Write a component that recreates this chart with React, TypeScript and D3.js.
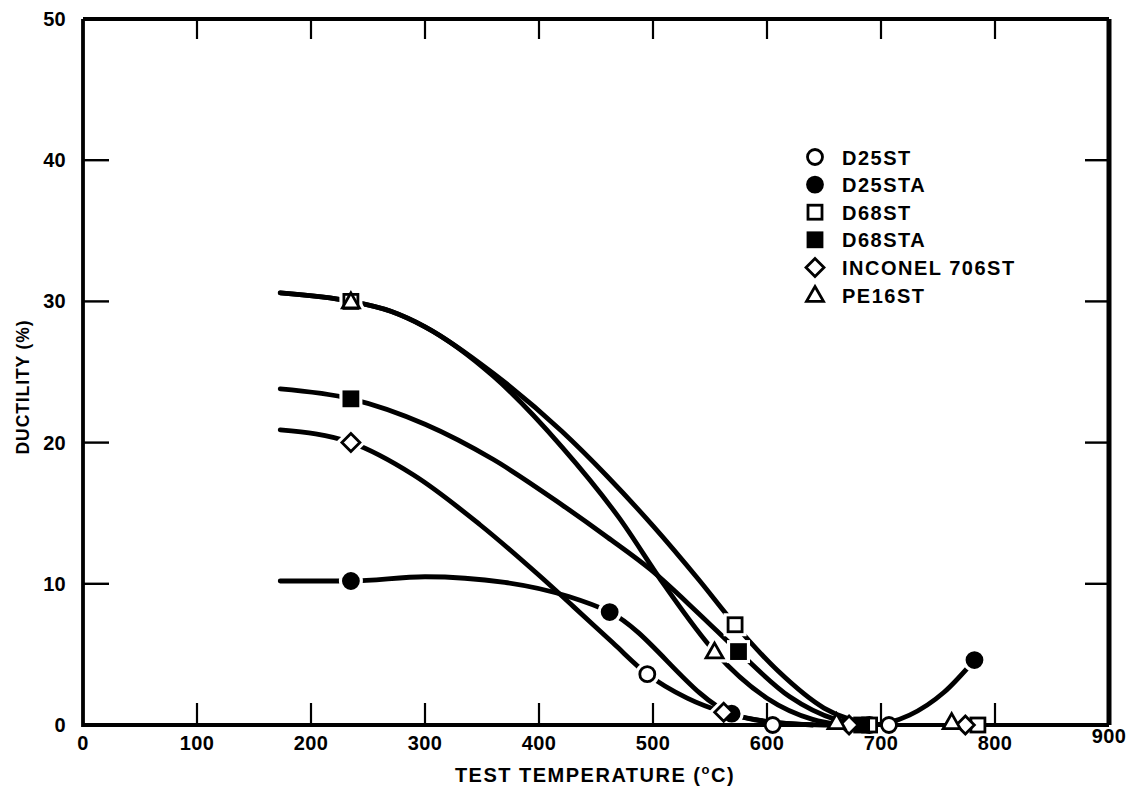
import React from "react";
import * as d3 from "d3";

const W = 1126;
const H = 791;

const xTickValues = [0, 100, 200, 300, 400, 500, 600, 700, 800, 900];
const yTickValues = [0, 10, 20, 30, 40, 50];

const seriesNames = ["D25ST", "D25STA", "D68ST", "D68STA", "INCONEL 706ST", "PE16ST"];
const seriesShapes = ["circle", "circle", "square", "square", "diamond", "triangle"];
const seriesFilled = [false, true, false, true, false, false];

// measured points (temperature °C, ductility %)
const d25stPoints: [number, number][] = [[495, 3.6], [605, 0], [707, 0]];
const d25staPoints: [number, number][] = [[235, 10.2], [462, 8.0], [569, 0.8], [690, 0], [782, 4.6]];
const d68stPoints: [number, number][] = [[235, 30], [572, 7.1], [690, 0], [785, 0]];
const d68staPoints: [number, number][] = [[235, 23.1], [575, 5.2], [683, 0]];
const inconelPoints: [number, number][] = [[235, 20], [562, 0.9], [672, 0], [774, 0]];
const pe16stPoints: [number, number][] = [[235, 30], [554, 5.2], [661, 0.2], [762, 0.2]];

// hand-drawn trend curves
const pe16stCurve: [number, number][] = [[173, 30.6], [235, 30], [270, 29.3], [300, 28.2], [360, 24.7], [420, 19.7], [470, 14.7], [510, 9.9], [554, 5.2], [600, 1.9], [640, 0.4], [665, 0]];
const d68stCurve: [number, number][] = [[173, 30.6], [235, 30], [270, 29.3], [300, 28.2], [360, 24.9], [420, 20.8], [460, 17.6], [500, 14.1], [540, 10.3], [572, 7.1], [610, 3.8], [650, 1.2], [692, 0]];
const d68staCurve: [number, number][] = [[173, 23.8], [235, 23.1], [300, 21.3], [360, 18.8], [420, 15.6], [460, 13.3], [498, 11.0], [540, 7.9], [575, 5.2], [620, 2.0], [660, 0.4], [686, 0]];
const inconelCurve: [number, number][] = [[173, 20.9], [235, 20], [290, 17.7], [348, 14.2], [400, 10.6], [430, 8.4], [465, 5.8], [495, 3.6], [530, 1.9], [562, 0.9], [600, 0.25], [640, 0]];
const d25staCurve: [number, number][] = [[173, 10.2], [235, 10.2], [300, 10.5], [370, 10.1], [426, 9.1], [462, 8.0], [569, 0.8], [610, 0.15], [650, 0], [690, 0], [725, 0.7], [755, 2.3], [782, 4.6]];

const curves = [pe16stCurve, d68stCurve, d68staCurve, inconelCurve, d25staCurve];
const pointSets = [d25stPoints, d25staPoints, d68stPoints, d68staPoints, inconelPoints, pe16stPoints];

const FONT = "'Liberation Sans', Arial, Helvetica, sans-serif";

function Marker({ shape, filled, cx, cy, halo }: { shape: string; filled: boolean; cx: number; cy: number; halo?: boolean }) {
  const fill = halo ? "white" : filled ? "black" : "white";
  const stroke = halo ? "white" : "black";
  const sw = halo ? 9 : 2.8;
  if (shape === "circle") {
    return <circle cx={cx} cy={cy} r={7.5} fill={fill} stroke={stroke} strokeWidth={sw} />;
  }
  if (shape === "square") {
    return <rect x={cx - 7} y={cy - 7} width={14} height={14} fill={fill} stroke={stroke} strokeWidth={sw} />;
  }
  if (shape === "diamond") {
    const r = 9;
    return <polygon points={`${cx},${cy - r} ${cx + r},${cy} ${cx},${cy + r} ${cx - r},${cy}`} fill={fill} stroke={stroke} strokeWidth={sw} strokeLinejoin="miter" />;
  }
  const s = 8.5;
  return <polygon points={`${cx},${cy - s} ${cx + s},${cy + s * 0.75} ${cx - s},${cy + s * 0.75}`} fill={fill} stroke={stroke} strokeWidth={sw} strokeLinejoin="miter" />;
}

export default function App() {
  const x = d3.scaleLinear().domain([0, 900]).range([83, 1109]);
  const y = d3.scaleLinear().domain([0, 50]).range([725, 19]);
  const line = d3
    .line<[number, number]>()
    .x((d) => x(d[0]))
    .y((d) => y(Math.max(0, d[1])))
    .curve(d3.curveMonotoneX);

  const x0 = x(0), x1 = x(900), y0 = y(0), y1 = y(50);

  return (
    <svg width={W} height={H} style={{ position: "absolute", left: 0, top: 0, background: "white" }} fontFamily={FONT}>
      <rect x={0} y={0} width={W} height={H} fill="white" />
      {/* curves */}
      {curves.map((c, i) => (
        <path key={"c" + i} d={line(c) || ""} fill="none" stroke="black" strokeWidth={4.8} strokeLinecap="round" />
      ))}
      {/* halos to create gaps */}
      {pointSets.map((pts, si) =>
        pts
          .filter((p) => p[1] > 0.5)
          .map((p, j) => (
            <Marker key={`h${si}-${j}`} shape={seriesShapes[si]} filled={false} cx={x(p[0])} cy={y(p[1])} halo />
          ))
      )}
      {/* frame */}
      <path d={`M${x0},${y1} L${x0},${y0} L${x1},${y0}`} fill="none" stroke="black" strokeWidth={3.8} />
      <path d={`M${x0},${y1} L${x1},${y1}`} fill="none" stroke="black" strokeWidth={3.8} />
      <path d={`M${x1},${y1} L${x1},${y0}`} fill="none" stroke="black" strokeWidth={5} />
      {/* ticks */}
      {xTickValues.slice(1, -1).map((t) => (
        <g key={"xt" + t}>
          <line x1={x(t)} x2={x(t)} y1={y0} y2={y0 - 22} stroke="black" strokeWidth={2.2} />
          <line x1={x(t)} x2={x(t)} y1={y1} y2={y1 + 20} stroke="black" strokeWidth={2.2} />
        </g>
      ))}
      {yTickValues.slice(1, -1).map((t) => (
        <g key={"yt" + t}>
          <line x1={x0} x2={x0 + 26} y1={y(t)} y2={y(t)} stroke="black" strokeWidth={2.4} />
          <line x1={x1} x2={x1 - 24} y1={y(t)} y2={y(t)} stroke="black" strokeWidth={2.4} />
        </g>
      ))}
      {/* tick labels */}
      {xTickValues.map((t) => (
        <text key={"xl" + t} x={x(t)} y={t === 900 ? 743 : 750} textAnchor="middle" fontSize={20} fontWeight="bold" letterSpacing={0.3}>
          {t}
        </text>
      ))}
      {yTickValues.map((t) => (
        <text key={"yl" + t} x={66} y={y(t) + 7} textAnchor="end" fontSize={20} fontWeight="bold" letterSpacing={0.3}>
          {t}
        </text>
      ))}
      {/* axis titles */}
      <text x={595} y={782} textAnchor="middle" fontSize={20} fontWeight="bold" letterSpacing={1.5}>
        TEST TEMPERATURE (
        <tspan fontSize={13} dy={-8}>o</tspan>
        <tspan dy={8}>C)</tspan>
      </text>
      <text transform={`translate(29,${(y0 + y1) / 2 + 15}) rotate(-90)`} textAnchor="middle" fontSize={17.5} fontWeight="bold" letterSpacing={0.9}>
        DUCTILITY (%)
      </text>
      {/* markers */}
      {pointSets.map((pts, si) =>
        pts.map((p, j) => (
          <Marker key={`m${si}-${j}`} shape={seriesShapes[si]} filled={seriesFilled[si]} cx={x(p[0])} cy={y(p[1])} />
        ))
      )}
      {/* legend */}
      {seriesNames.map((name, i) => {
        const ly = 157 + i * 27.6;
        return (
          <g key={"lg" + i}>
            <Marker shape={seriesShapes[i]} filled={seriesFilled[i]} cx={815} cy={ly} />
            <text x={842} y={ly + 7.5} fontSize={20} fontWeight="bold" letterSpacing={1.5}>
              {name}
            </text>
          </g>
        );
      })}
    </svg>
  );
}
